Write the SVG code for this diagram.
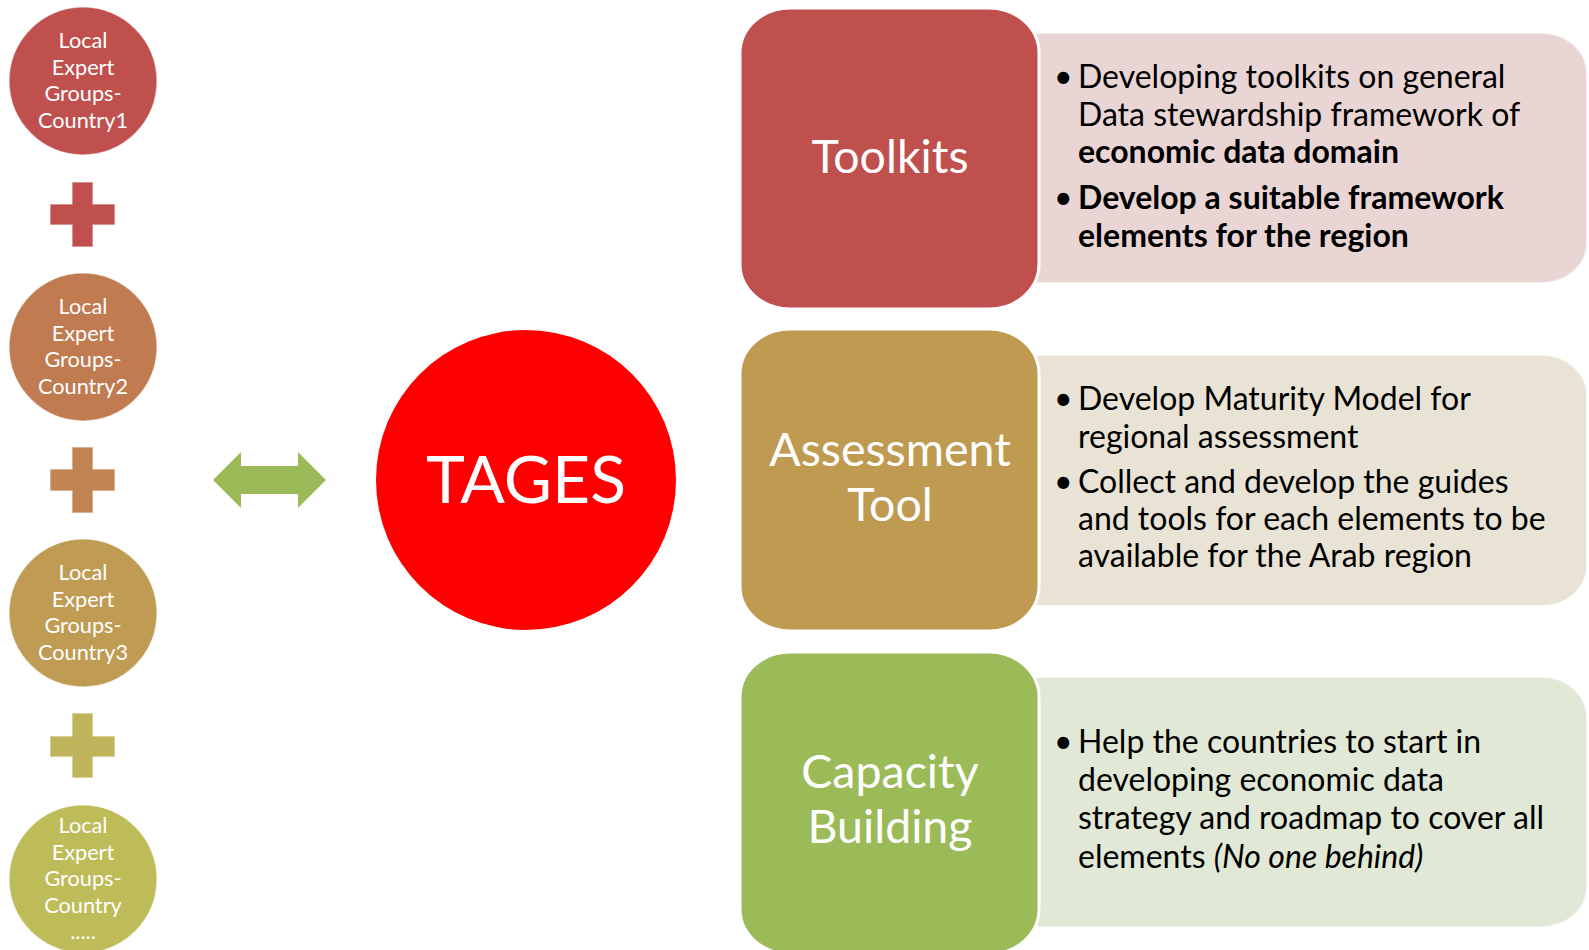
<svg xmlns="http://www.w3.org/2000/svg" width="1589" height="950" viewBox="0 0 1589 950">
<style>
.ct{font-family:Lato,"Liberation Sans",sans-serif;font-size:21.7px;fill:#fff;text-anchor:middle}
.ttl{font-family:Lato,"Liberation Sans",sans-serif;font-size:46.5px;fill:#fff;text-anchor:middle}
.bt{font-family:Lato,"Liberation Sans",sans-serif;font-size:32px;fill:#000}
.b{font-weight:bold}
.i{font-style:italic}
.edge{stroke:#fff;stroke-opacity:0.5;stroke-width:1.5}
.dark{stroke:#fff;stroke-width:3}
.light{stroke:#fff;stroke-opacity:0.6;stroke-width:2}
</style>
<rect width="1589" height="950" fill="#fff"/>
<g id="country1">
<circle cx="83" cy="81" r="74" fill="#C0504D" class="edge"/>
<text class="ct"><tspan x="83" y="48">Local</tspan><tspan x="83" y="75">Expert</tspan><tspan x="83" y="101">Groups-</tspan><tspan x="83" y="128">Country1</tspan></text>
</g>
<g id="plus1"><path d="M72,182h21v22h22v21h-22v22h-21v-22h-22v-21h22z" fill="#C0504D" class="edge"/></g>
<g id="country2">
<circle cx="83" cy="347" r="74" fill="#C07B51" class="edge"/>
<text class="ct"><tspan x="83" y="314">Local</tspan><tspan x="83" y="341">Expert</tspan><tspan x="83" y="367">Groups-</tspan><tspan x="83" y="394">Country2</tspan></text>
</g>
<g id="plus2"><path d="M72,447h21v22h22v22h-22v22h-21v-22h-22v-22h22z" fill="#C08351" class="edge"/></g>
<g id="country3">
<circle cx="83" cy="613" r="74" fill="#BF9B53" class="edge"/>
<text class="ct"><tspan x="83" y="580">Local</tspan><tspan x="83" y="607">Expert</tspan><tspan x="83" y="633">Groups-</tspan><tspan x="83" y="660">Country3</tspan></text>
</g>
<g id="plus3"><path d="M72,713h21v23h22v21h-22v21h-21v-21h-22v-21h22z" fill="#BFB45B" class="edge"/></g>
<g id="country4">
<circle cx="83" cy="879" r="74" fill="#BDBC59" class="edge"/>
<text class="ct"><tspan x="83" y="833">Local</tspan><tspan x="83" y="860">Expert</tspan><tspan x="83" y="886">Groups-</tspan><tspan x="83" y="913">Country</tspan><tspan x="83" y="939">.....</tspan></text>
</g>
<g id="connectors">
<polygon points="213,480 241,452 241,466 298,466 298,452 326,480 298,508 298,494 241,494 241,508" fill="#9BBB59"/>
</g>
<g id="tages">
<circle cx="526" cy="480" r="150" fill="#FF0000"/>
<text x="526" y="503" font-family="Lato,'Liberation Sans',sans-serif" font-size="66" fill="#fff" text-anchor="middle">TAGES</text>
</g>
<g id="toolkits-detail">
<path d="M1025,33H1542A45,40 0 0 1 1587,73V243A45,40 0 0 1 1542,283H1025Z" fill="#EAD5D5" class="light"/>
<text class="bt"><tspan x="1054" y="88">•</tspan><tspan x="1078" y="88">Developing toolkits on general</tspan><tspan x="1078" y="126">Data stewardship framework of</tspan><tspan x="1078" y="163" class="b">economic data domain</tspan><tspan x="1054" y="209">•</tspan><tspan x="1078" y="209" class="b">Develop a suitable framework</tspan><tspan x="1078" y="247" class="b">elements for the region</tspan></text>
</g>
<g id="toolkits">
<rect x="740" y="8" width="299" height="301" rx="50" ry="45" fill="#C0504D" class="dark"/>
<text class="ttl" x="890" y="173">Toolkits</text>
</g>
<g id="assessment-detail">
<path d="M1025,355H1542A45,40 0 0 1 1587,395V566A45,40 0 0 1 1542,606H1025Z" fill="#E9E3D5" class="light"/>
<text class="bt"><tspan x="1054" y="410">•</tspan><tspan x="1078" y="410">Develop Maturity Model for</tspan><tspan x="1078" y="448">regional assessment</tspan><tspan x="1054" y="493">•</tspan><tspan x="1078" y="493">Collect and develop the guides</tspan><tspan x="1078" y="530">and tools for each elements to be</tspan><tspan x="1078" y="567">available for the Arab region</tspan></text>
</g>
<g id="assessment">
<rect x="740" y="329" width="299" height="302" rx="50" ry="45" fill="#BF9B52" class="dark"/>
<text class="ttl"><tspan x="890" y="466">Assessment</tspan><tspan x="890" y="521">Tool</tspan></text>
</g>
<g id="capacity-detail">
<path d="M1025,677H1542A45,40 0 0 1 1587,717V887A45,40 0 0 1 1542,927H1025Z" fill="#E1E8D5" class="light"/>
<text class="bt"><tspan x="1054" y="753">•</tspan><tspan x="1078" y="753">Help the countries to start in</tspan><tspan x="1078" y="791">developing economic data</tspan><tspan x="1078" y="829">strategy and roadmap to cover all</tspan><tspan x="1078" y="868">elements </tspan><tspan class="i">(No one behind)</tspan></text>
</g>
<g id="capacity">
<rect x="740" y="652" width="299" height="302" rx="50" ry="45" fill="#9BBB59" class="dark"/>
<text class="ttl"><tspan x="890" y="788">Capacity</tspan><tspan x="890" y="843">Building</tspan></text>
</g>
</svg>
